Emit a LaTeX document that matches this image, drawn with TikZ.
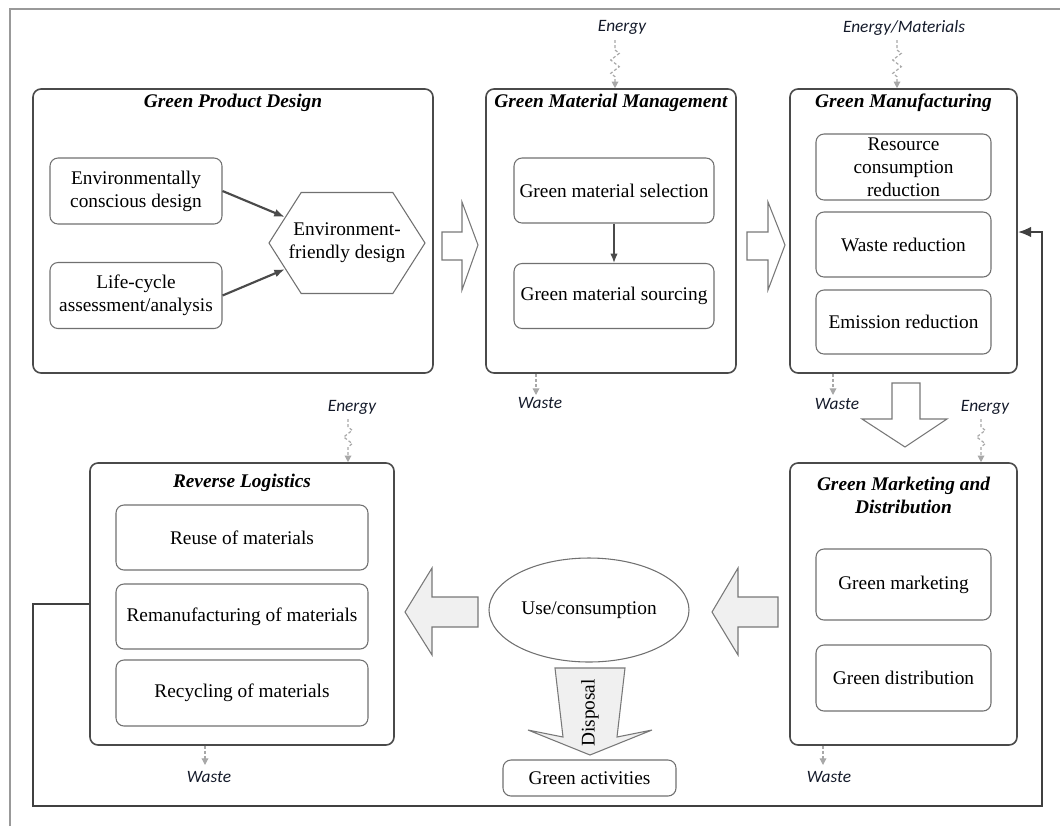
\documentclass[tikz,border=0pt]{standalone}
\usepackage{fontspec}
\setmainfont{Liberation Serif}
\newfontfamily\labfont{Carlito}
\usetikzlibrary{shapes.geometric,shapes.symbols,arrows.meta,decorations.pathmorphing}

\definecolor{boxline}{HTML}{4A4A4A}
\definecolor{innerline}{HTML}{707070}
\definecolor{fbline}{HTML}{404040}
\definecolor{sqline}{HTML}{A8A8A8}
\definecolor{arrowfill}{HTML}{F0F0F0}
\definecolor{arrowline}{HTML}{787878}
\definecolor{labtext}{HTML}{141A2A}

\tikzset{
  body/.style={font=\fontsize{14.5}{17.25}\selectfont, align=center},
  outerbox/.style={draw=boxline, line width=1.2pt, rounded corners=6pt, inner sep=0pt},
  innerbox/.style={body, draw=innerline, line width=0.8pt, rounded corners=6pt, inner sep=0pt},
  titletext/.style={font=\fontsize{14.5}{17.25}\bfseries\itshape\selectfont, align=center, inner sep=0pt},
  labtxt/.style={font=\labfont\fontsize{13}{15}\itshape\selectfont, text=labtext, inner sep=0pt},
  sq/.style={draw=sqline, line width=0.9pt, dash pattern=on 2.2pt off 1.6pt, -{Triangle[length=5pt,width=5pt]}},
  zz/.style={decoration={zigzag, amplitude=3.2pt, segment length=10pt}},
  inarrow/.style={draw=boxline, line width=1.6pt, -{Latex[length=8pt,width=6pt]}},
  hollow/.style={draw=arrowline, line width=0.8pt, fill=white, line join=miter},
  grayarrow/.style={draw=arrowline, line width=0.8pt, fill=arrowfill, line join=miter},
  fb/.style={draw=fbline, line width=1.7pt, -{Latex[length=10pt,width=8pt]}},
  frameline/.style={draw=gray!80, line width=0.9pt}
}

\begin{document}
\begin{tikzpicture}[x=0.75pt,y=-0.75pt]
\useasboundingbox (0,0) rectangle (1060,826);

% page frame
\draw[frameline] (10,826) -- (10,9) -- (1060,9);

% ---------- stage boxes ----------
\node[outerbox, minimum width=300pt, minimum height=213pt] (gpd) at (233,231) {};
\node[outerbox, minimum width=187.5pt, minimum height=213pt] (gmm) at (611,231) {};
\node[outerbox, minimum width=170.25pt, minimum height=213pt] (gm) at (903.5,231) {};
\node[outerbox, minimum width=170.25pt, minimum height=211.5pt] (gmd) at (903.5,604) {};
\node[outerbox, minimum width=228pt, minimum height=211.5pt] (rl) at (242,604) {};

\node[titletext] (tgpd) at (233,103) {Green Product Design};
\node[titletext] (tgmm) at (611,103) {Green Material Management};
\node[titletext] (tgm) at (903.5,103) {Green Manufacturing};
\node[titletext] (tgmd) at (903.5,495.5) {Green Marketing and\\Distribution};
\node[titletext] (trl) at (242,483) {Reverse Logistics};

% ---------- green product design ----------
\node[innerbox, minimum width=129pt, minimum height=49.5pt] (ecd) at (136,191) {Environmentally\\conscious design};
\node[innerbox, minimum width=129pt, minimum height=49.5pt] (lca) at (136,295.5) {Life-cycle\\assessment/analysis};
% hexagon outline, sized by its minimum dimensions; its text is set on top
\node[signal, signal to=west and east, signal pointer angle=115, draw=innerline, line width=0.8pt,
      minimum width=117pt, minimum height=75.75pt, inner sep=0pt] (efd) at (347,243) {};
\node[body, inner sep=0pt] (efdtext) at (efd.center) {Environment-\\friendly design};
\draw[inarrow] (ecd.east) -- (efd);
\draw[inarrow] (lca.east) -- (efd);

% ---------- green material management ----------
\node[innerbox, minimum width=150pt, minimum height=48.75pt] (gms) at (614,190.5) {Green material selection};
\node[innerbox, minimum width=150pt, minimum height=48.75pt] (gmso) at (614,296) {Green material sourcing};
\draw[draw=boxline, line width=1pt, -{Latex[length=7pt,width=5.5pt]}] (gms) -- (gmso);

% ---------- green manufacturing ----------
\node[innerbox, minimum width=131.25pt, minimum height=49.5pt] (rcr) at (903.5,167) {Resource\\consumption\\reduction};
\node[innerbox, minimum width=131.25pt, minimum height=48.75pt] (wr) at (903.5,244.5) {Waste reduction};
\node[innerbox, minimum width=131.25pt, minimum height=48pt] (er) at (903.5,322) {Emission reduction};

% ---------- green marketing and distribution ----------
\node[innerbox, minimum width=131.25pt, minimum height=53.25pt] (gmk) at (903.5,584.5) {Green marketing};
\node[innerbox, minimum width=131.25pt, minimum height=49.5pt] (gdi) at (903.5,678) {Green distribution};

% ---------- reverse logistics ----------
\node[innerbox, minimum width=189pt, minimum height=48.75pt] (reuse) at (242,537.5) {Reuse of materials};
\node[innerbox, minimum width=189pt, minimum height=48.75pt] (reman) at (242,616.5) {Remanufacturing of materials};
\node[innerbox, minimum width=189pt, minimum height=49.5pt] (recyc) at (242,693) {Recycling of materials};

% ---------- use and disposal ----------
\node[body, ellipse, draw=innerline, line width=0.8pt, minimum width=150pt, minimum height=78pt, inner sep=0pt] (use) at (589,610) {Use/consumption};
\node[innerbox, minimum width=129.75pt, minimum height=27pt] (ga) at (589.5,778) {Green activities};

% ---------- block arrows ----------
\draw[hollow] (442,232) -- (462,232) -- (462,202) -- (478,245) -- (462,290) -- (462,260) -- (442,260) -- cycle;
\draw[hollow] (747,232) -- (768,232) -- (768,202) -- (785,245) -- (768,290) -- (768,260) -- (747,260) -- cycle;
\draw[hollow] (892,383) -- (920,383) -- (920,419) -- (947,419) -- (905,447) -- (862,419) -- (892,419) -- cycle;
\draw[grayarrow] (478,597) -- (432,597) -- (432,568) -- (405,612) -- (432,655) -- (432,627) -- (478,627) -- cycle;
\draw[grayarrow] (778,597) -- (738,597) -- (738,568) -- (712,612) -- (738,655) -- (738,627) -- (778,627) -- cycle;
\draw[grayarrow] (555,668) -- (625,668) -- (617,737) -- (652,730) -- (590,755) -- (528,730) -- (563,737) -- cycle;
\node[body, rotate=90, inner sep=0pt] (disp) at (590,713) {Disposal};

% ---------- energy inputs ----------
\node[labtxt] (en1) at (622,27) {Energy};
\node[labtxt] (en2) at (904,28) {Energy/Materials};
\node[labtxt] (en3) at (985,407) {Energy};
\node[labtxt] (en4) at (352,407) {Energy};

\coordinate (s1) at (615,40);
\coordinate (s2) at (897,40);
\coordinate (s3) at (981,419);
\coordinate (s4) at (348,419);
\draw[sq] (s1) -- ++(0,10) decorate[zz] {-- ++(0,28)} -- (gmm.north -| s1);
\draw[sq] (s2) -- ++(0,10) decorate[zz] {-- ++(0,28)} -- (gm.north -| s2);
\draw[sq] (s3) -- ++(0,8) decorate[zz] {-- ++(0,26)} -- (gmd.north -| s3);
\draw[sq] (s4) -- ++(0,8) decorate[zz] {-- ++(0,26)} -- (rl.north -| s4);

% ---------- waste outputs ----------
\node[labtxt] (w1) at (540,403) {Waste};
\node[labtxt] (w2) at (837,404) {Waste};
\node[labtxt] (w3) at (209,777) {Waste};
\node[labtxt] (w4) at (829,777) {Waste};
\coordinate (o1) at (536,395);
\coordinate (o2) at (833,395);
\coordinate (o3) at (205,765);
\coordinate (o4) at (823,765);
\draw[sq] (gmm.south -| o1) -- (o1);
\draw[sq] (gm.south -| o2) -- (o2);
\draw[sq] (rl.south -| o3) -- (o3);
\draw[sq] (gmd.south -| o4) -- (o4);

% ---------- feedback loop ----------
\coordinate (fbl) at (33,806);
\coordinate (fbr) at (1042,232);
\draw[fb] (rl.west) -| (fbl) -| (fbr) -- (gm.east |- fbr);

\end{tikzpicture}
\end{document}
